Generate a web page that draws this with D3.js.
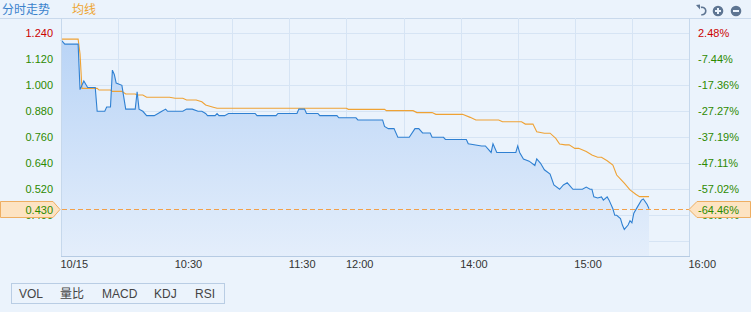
<!DOCTYPE html>
<html>
<head>
<meta charset="utf-8">
<script src="https://cdn.jsdelivr.net/npm/d3@7"></script>
<style>
  html, body { margin: 0; padding: 0; background: #ebf3fc; }
  svg { display: block; font-family: "Liberation Sans", Arial, sans-serif; }
  .cjk { font-family: "Noto Sans CJK SC", sans-serif; }
</style>
</head>
<body>
<div id="chart"></div>
<script>
// intraday data (HK session, lunch break removed)
const prevClose = 1.21;
const lastPrice = 0.43;

const priceTimes = ['09:30','09:32','09:39','09:40','09:42','09:44','09:48','09:49','09:53','09:54','09:56','09:57','09:58','09:59','10:02','10:04','10:09','10:10','10:11','10:13','10:15','10:19','10:21','10:23','10:25','10:26','10:34','10:36','10:39','10:42','10:44','10:46','10:47','10:51','10:52','10:53','10:56','10:58','11:12','11:13','11:23','11:24','11:34','11:35','11:38','11:39','11:45','11:46','11:55','11:56','12:00','13:05','13:06','13:19','13:20','13:22','13:25','13:27','13:33','13:36','13:38','13:40','13:44','13:45','13:51','13:52','14:03','14:04','14:11','14:13','14:16','14:17','14:19','14:29','14:30','14:31','14:33','14:36','14:39','14:40','14:42','14:44','14:47','14:49','14:52','14:54','14:56','14:57','14:59','15:02','15:04','15:06','15:08','15:09','15:10','15:12','15:14','15:15','15:17','15:18','15:20','15:21','15:22','15:24','15:25','15:26','15:28','15:29','15:30','15:31','15:33','15:35','15:36','15:38','15:39'];
const priceValues = [1.21,1.19,1.19,0.98,1.02,0.99,0.99,0.88,0.88,0.90,0.90,1.07,1.05,1.01,1.00,0.89,0.89,0.97,0.89,0.88,0.86,0.86,0.87,0.88,0.89,0.88,0.88,0.89,0.89,0.88,0.88,0.87,0.86,0.86,0.87,0.86,0.86,0.87,0.87,0.86,0.86,0.87,0.87,0.89,0.89,0.87,0.87,0.86,0.86,0.85,0.85,0.85,0.84,0.84,0.81,0.80,0.80,0.76,0.76,0.80,0.80,0.78,0.78,0.76,0.76,0.75,0.75,0.73,0.72,0.72,0.69,0.73,0.69,0.69,0.72,0.69,0.66,0.65,0.63,0.66,0.64,0.61,0.59,0.54,0.52,0.54,0.55,0.54,0.52,0.52,0.52,0.53,0.52,0.52,0.485,0.48,0.485,0.47,0.485,0.47,0.43,0.40,0.40,0.385,0.355,0.335,0.355,0.375,0.365,0.41,0.44,0.47,0.475,0.45,0.43];

const avgTimes = ['09:30','09:39','09:40','09:41','09:49','09:50','09:56','09:57','10:02','10:04','10:09','10:10','10:13','10:15','10:27','10:30','10:34','10:36','10:41','10:44','10:46','10:50','10:52','12:00','13:01','13:20','13:21','13:35','13:37','13:45','13:47','14:01','14:05','14:08','14:20','14:22','14:32','14:34','14:38','14:40','14:44','14:47','14:50','14:52','14:55','14:57','15:00','15:02','15:06','15:09','15:12','15:14','15:17','15:20','15:22','15:26','15:29','15:32','15:34','15:39'];
const avgValues = [1.213,1.213,1.145,0.986,0.986,0.978,0.978,0.972,0.972,0.960,0.960,0.955,0.955,0.945,0.945,0.940,0.940,0.932,0.932,0.924,0.909,0.899,0.894,0.894,0.889,0.889,0.883,0.883,0.874,0.874,0.866,0.866,0.852,0.840,0.840,0.832,0.832,0.821,0.821,0.786,0.779,0.779,0.755,0.729,0.725,0.725,0.709,0.709,0.694,0.678,0.668,0.668,0.652,0.632,0.586,0.548,0.517,0.497,0.486,0.486];

const yTicks = [1.24, 1.12, 1.00, 0.88, 0.76, 0.64, 0.52, 0.40];
const yGrid = [1.24, 1.12, 1.00, 0.88, 0.76, 0.64, 0.52, 0.40, 0.28];
const xTickTimes = ['09:30','10:30','11:30','12:00','14:00','15:00','16:00'];
const xTickLabels = ['10/15','10:30','11:30','12:00','14:00','15:00','16:00'];
const tabs = ['VOL','量比','MACD','KDJ','RSI'];

// layout
const W = 751, H = 312;
const plot = { left: 61, right: 689, top: 18, bottom: 257 };

// minutes since 09:30 with the 12:00-13:00 break taken out
function tradeMin(t) {
    const [h, m] = t.split(':').map(Number);
    const mins = h * 60 + m;
    return mins <= 720 ? mins - 570 : mins - 780 + 150;
}

const x = d3.scaleLinear().domain([0, 330]).range([plot.left, plot.right]);
const y = d3.scaleLinear().domain([0.40, 1.24]).range([215.3, 33.3]);

const pct = v => ((v - prevClose) / prevClose * 100).toFixed(2) + '%';
const colorFor = v => v > prevClose ? '#cc0000' : '#2d8a00';

const priceData = priceTimes.map((t, i) => ({ m: tradeMin(t), v: priceValues[i] }));
const avgData = avgTimes.map((t, i) => ({ m: tradeMin(t), v: avgValues[i] }));

const svg = d3.select('#chart').append('svg')
    .attr('width', W)
    .attr('height', H);

const defs = svg.append('defs');
const grad = defs.append('linearGradient')
    .attr('id', 'fillGrad')
    .attr('x1', 0).attr('y1', 0).attr('x2', 0).attr('y2', 1);
grad.append('stop').attr('offset', '0%').attr('stop-color', '#b9d4f6');
grad.append('stop').attr('offset', '100%').attr('stop-color', '#e4eefb');

// header
svg.append('line')
    .attr('x1', 0).attr('x2', W)
    .attr('y1', 18.5).attr('y2', 18.5)
    .attr('stroke', '#c9d9ec');

svg.append('text').attr('class', 'cjk')
    .attr('x', 2).attr('y', 14)
    .attr('font-size', 12)
    .attr('fill', '#3a82cc')
    .text('分时走势');
svg.append('text').attr('class', 'cjk')
    .attr('x', 72).attr('y', 14)
    .attr('font-size', 12)
    .attr('fill', '#eea531')
    .text('均线');

// header icons
const iconColor = '#5e7592';
const icons = svg.append('g');
icons.append('path')
    .attr('d', d3.arc()({ innerRadius: 3, outerRadius: 4.6, startAngle: -0.3, endAngle: Math.PI + 0.2 }))
    .attr('transform', 'translate(702,11)')
    .attr('fill', iconColor);
icons.append('path')
    .attr('d', 'M696,5 L700,4.5 L700,9.5 Z')
    .attr('fill', iconColor);
[718, 736].forEach((cx, i) => {
    icons.append('circle').attr('cx', cx).attr('cy', 11).attr('r', 5.3).attr('fill', iconColor);
    icons.append('rect').attr('x', cx - 3).attr('y', 10).attr('width', 6).attr('height', 2).attr('fill', '#ebf3fc');
    if (i === 0) {
        icons.append('rect').attr('x', cx - 1).attr('y', 8).attr('width', 2).attr('height', 6).attr('fill', '#ebf3fc');
    }
});

// grid
const grid = svg.append('g').attr('class', 'grid');
grid.selectAll('line.h')
    .data(yGrid)
    .enter().append('line')
    .attr('x1', plot.left).attr('x2', plot.right)
    .attr('y1', d => Math.round(y(d)) + 0.5)
    .attr('y2', d => Math.round(y(d)) + 0.5)
    .attr('stroke', '#d6e4f4');
grid.selectAll('line.v')
    .data(d3.range(30, 330, 30))
    .enter().append('line')
    .attr('x1', d => Math.round(x(d)) + 0.5)
    .attr('x2', d => Math.round(x(d)) + 0.5)
    .attr('y1', plot.top).attr('y2', plot.bottom)
    .attr('stroke', '#d6e4f4');

// area + lines
const area = d3.area()
    .x(d => x(d.m))
    .y0(plot.bottom)
    .y1(d => y(d.v));
svg.append('path')
    .datum(priceData)
    .attr('d', area)
    .attr('fill', 'url(#fillGrad)');

const line = d3.line()
    .x(d => x(d.m))
    .y(d => y(d.v));

svg.append('path')
    .datum(avgData)
    .attr('d', line)
    .attr('fill', 'none')
    .attr('stroke', '#efa234')
    .attr('stroke-width', 1.1);

svg.append('path')
    .datum(priceData)
    .attr('d', line)
    .attr('fill', 'none')
    .attr('stroke', '#2f80d2')
    .attr('stroke-width', 1.1);

// frame
svg.append('line')
    .attr('x1', plot.left + 0.5).attr('x2', plot.left + 0.5)
    .attr('y1', plot.top).attr('y2', plot.bottom)
    .attr('stroke', '#c6d8ec');
svg.append('line')
    .attr('x1', plot.right + 0.5).attr('x2', plot.right + 0.5)
    .attr('y1', plot.top).attr('y2', plot.bottom)
    .attr('stroke', '#c6d8ec');
svg.append('line')
    .attr('x1', plot.left).attr('x2', plot.right + 1)
    .attr('y1', plot.bottom - 0.5).attr('y2', plot.bottom - 0.5)
    .attr('stroke', '#b6cbe3');

// left / right value axes
const leftAxis = svg.append('g')
    .attr('transform', `translate(${plot.left - 8},0)`)
    .call(d3.axisLeft(y).tickValues(yTicks).tickFormat(d3.format('.3f')).tickSize(0).tickPadding(0));
leftAxis.select('.domain').remove();
leftAxis.selectAll('text')
    .attr('font-size', 11)
    .attr('font-family', '"Liberation Sans", Arial, sans-serif')
    .attr('fill', d => colorFor(d));

const rightAxis = svg.append('g')
    .attr('transform', `translate(${plot.right + 9},0)`)
    .call(d3.axisRight(y).tickValues(yTicks).tickFormat(pct).tickSize(0).tickPadding(0));
rightAxis.select('.domain').remove();
rightAxis.selectAll('text')
    .attr('font-size', 11)
    .attr('font-family', '"Liberation Sans", Arial, sans-serif')
    .attr('fill', d => colorFor(d));

// time axis
const timeAxis = svg.append('g')
    .attr('transform', `translate(-1,${plot.bottom})`)
    .call(d3.axisBottom(x)
        .tickValues(xTickTimes.map(tradeMin))
        .tickFormat((d, i) => xTickLabels[i])
        .tickSize(0).tickPadding(3));
timeAxis.select('.domain').remove();
timeAxis.selectAll('text')
    .attr('text-anchor', 'start')
    .attr('font-size', 11)
    .attr('font-family', '"Liberation Sans", Arial, sans-serif')
    .attr('fill', '#333');

// last price dashed line + markers
const yl = Math.round(y(lastPrice)) + 0.5;
svg.append('line')
    .attr('x1', plot.left + 1).attr('x2', plot.right)
    .attr('y1', yl).attr('y2', yl)
    .attr('stroke', '#f2a04a')
    .attr('stroke-dasharray', '5,3');

svg.append('path')
    .attr('d', `M0.5,${yl - 8} L53,${yl - 8} L60,${yl} L53,${yl + 8} L0.5,${yl + 8} Z`)
    .attr('fill', '#fde3c2')
    .attr('stroke', '#eeae62');
svg.append('text')
    .attr('x', 53).attr('y', yl + 4)
    .attr('text-anchor', 'end')
    .attr('font-size', 11)
    .attr('fill', '#2d8a00')
    .text(d3.format('.3f')(lastPrice));

svg.append('path')
    .attr('d', `M${plot.right},${yl} L${plot.right + 8},${yl - 8} L750.5,${yl - 8} L750.5,${yl + 8} L${plot.right + 8},${yl + 8} Z`)
    .attr('fill', '#fde3c2')
    .attr('stroke', '#eeae62');
svg.append('text')
    .attr('x', plot.right + 9).attr('y', yl + 4)
    .attr('font-size', 11)
    .attr('fill', '#2d8a00')
    .text(pct(lastPrice));

// indicator tabs
svg.append('rect')
    .attr('x', 11.5).attr('y', 283.5)
    .attr('width', 213).attr('height', 20)
    .attr('fill', 'none')
    .attr('stroke', '#b9cde4');
const tabX = [19, 60, 102, 154, 195];
svg.selectAll('text.tab')
    .data(tabs)
    .enter().append('text')
    .attr('class', d => /[^\x00-\x7f]/.test(d) ? 'tab cjk' : 'tab')
    .attr('x', (d, i) => tabX[i])
    .attr('y', 298)
    .attr('font-size', 12)
    .attr('fill', '#444')
    .text(d => d);
</script>
</body>
</html>
